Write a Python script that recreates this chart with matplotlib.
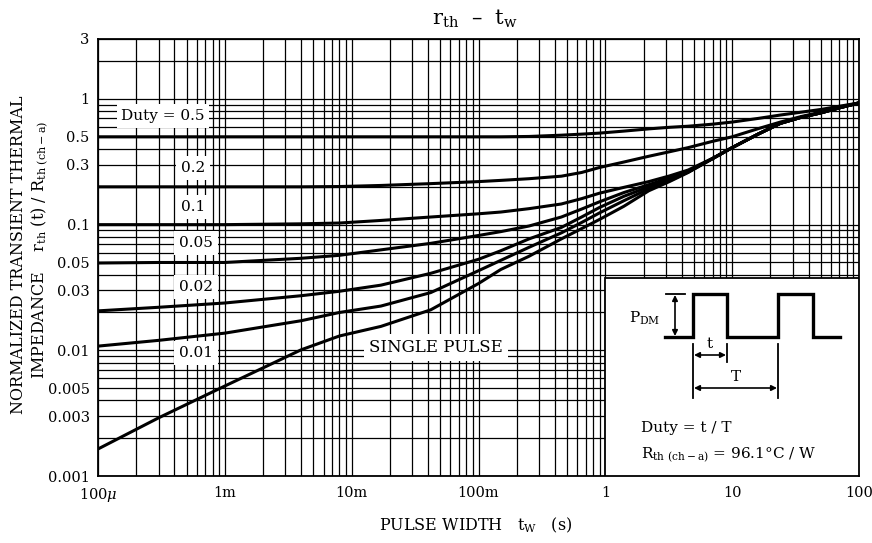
import numpy as np
import matplotlib
matplotlib.use("Agg")
import matplotlib.pyplot as plt
from matplotlib.patches import Rectangle
from matplotlib.ticker import LogLocator, NullFormatter

plt.rcParams["font.family"] = ["DejaVu Serif"]
plt.rcParams["mathtext.fontset"] = "dejavuserif"

# pulse width (s) and normalized r_th
t_w = [1e-4, 3e-4, 1e-3, 4e-3, 8e-3, 1.7e-2, 4.2e-2, 0.1, 0.15, 0.25, 0.45, 0.65, 0.9,
       1.4, 2.2, 3.2, 4.5, 7, 10, 16, 24, 35, 50, 70, 100]
duty_05 = [0.5, 0.5, 0.5, 0.5, 0.5, 0.5, 0.5, 0.5, 0.5, 0.503, 0.515, 0.525, 0.535,
           0.555, 0.578, 0.595, 0.607, 0.63, 0.655, 0.70, 0.745, 0.785, 0.825, 0.875, 0.93]
duty_02 = [0.2, 0.2, 0.2, 0.2, 0.201, 0.205, 0.212, 0.22, 0.225, 0.232, 0.243, 0.26, 0.285,
           0.315, 0.35, 0.38, 0.41, 0.46, 0.50, 0.58, 0.655, 0.725, 0.785, 0.855, 0.93]
duty_01 = [0.1, 0.1, 0.1, 0.1015, 0.103, 0.108, 0.115, 0.122, 0.126, 0.134, 0.146, 0.161, 0.178,
           0.198, 0.22, 0.244, 0.272, 0.337, 0.41, 0.525, 0.64, 0.715, 0.775, 0.85, 0.93]
duty_005 = [0.0495, 0.05, 0.05, 0.054, 0.057, 0.063, 0.071, 0.082, 0.088, 0.0975, 0.115, 0.133, 0.152,
            0.18, 0.208, 0.235, 0.266, 0.335, 0.41, 0.525, 0.64, 0.715, 0.775, 0.85, 0.93]
duty_002 = [0.0206, 0.022, 0.0238, 0.0272, 0.0295, 0.033, 0.041, 0.053, 0.062, 0.077, 0.095, 0.115, 0.137,
            0.168, 0.2, 0.228, 0.263, 0.335, 0.41, 0.525, 0.64, 0.715, 0.775, 0.85, 0.93]
duty_001 = [0.0108, 0.012, 0.0137, 0.0172, 0.020, 0.0225, 0.0288, 0.043, 0.052, 0.066, 0.086, 0.104, 0.124,
            0.155, 0.193, 0.224, 0.262, 0.335, 0.41, 0.525, 0.64, 0.715, 0.775, 0.85, 0.93]
single = [0.00164, 0.0029, 0.0052, 0.0101, 0.013, 0.0155, 0.021, 0.034, 0.044, 0.056, 0.077, 0.093, 0.11,
          0.14, 0.186, 0.22, 0.26, 0.335, 0.41, 0.525, 0.64, 0.715, 0.775, 0.85, 0.93]

curves = [duty_05, duty_02, duty_01, duty_005, duty_002, duty_001, single]

x_ticks = [1e-4, 1e-3, 1e-2, 1e-1, 1, 10, 100]
x_labels = ["100$\\mu$", "1m", "10m", "100m", "1", "10", "100"]
y_ticks = [0.001, 0.003, 0.005, 0.01, 0.03, 0.05, 0.1, 0.3, 0.5, 1, 3]
y_labels = ["0.001", "0.003", "0.005", "0.01", "0.03", "0.05", "0.1", "0.3", "0.5", "1", "3"]

W, H = 872, 543
fig = plt.figure(figsize=(W / 100, H / 100), dpi=100)
ax = fig.add_axes([98 / W, 1 - 476 / H, 761 / W, 437 / H])
ax.set_xscale("log")
ax.set_yscale("log")
ax.set_xlim(1e-4, 100)
ax.set_ylim(0.001, 3)

for y in curves:
    ax.plot(t_w, y, color="black", lw=2.2, solid_joinstyle="round", zorder=3)

ax.set_xticks(x_ticks)
ax.set_xticklabels(x_labels)
ax.set_yticks(y_ticks)
ax.set_yticklabels(y_labels)
ax.xaxis.set_minor_locator(LogLocator(base=10, subs=np.arange(2, 10), numticks=20))
ax.yaxis.set_minor_locator(LogLocator(base=10, subs=np.arange(2, 10), numticks=20))
ax.xaxis.set_minor_formatter(NullFormatter())
ax.yaxis.set_minor_formatter(NullFormatter())
ax.tick_params(which="both", length=0, labelsize=10.5)
ax.tick_params(axis="x", pad=7)
ax.tick_params(axis="y", pad=6)
ax.grid(which="both", color="black", lw=0.9)
ax.set_axisbelow(True)
for s in ax.spines.values():
    s.set_linewidth(1.3)


def ftext(px, py, s, **kw):
    # place text by pixel position measured from the top-left corner
    return fig.text(px / W, 1 - py / H, s, zorder=7, **kw)


# curve labels on white patches
box = dict(boxstyle="square,pad=0.3", fc="white", ec="none")
ftext(163, 116, "Duty = 0.5", ha="center", va="center", fontsize=11, bbox=box)
ftext(193, 168, "0.2", ha="center", va="center", fontsize=11, bbox=box)
ftext(193, 207, "0.1", ha="center", va="center", fontsize=11, bbox=box)
ftext(196, 243, "0.05", ha="center", va="center", fontsize=11, bbox=box)
ftext(196, 287, "0.02", ha="center", va="center", fontsize=11, bbox=box)
ftext(196, 353, "0.01", ha="center", va="center", fontsize=11, bbox=box)
ftext(436, 347, "SINGLE PULSE", ha="center", va="center", fontsize=12, bbox=box)


# inset box with pulse diagram
def P(px, py):
    return ((px - 98) / 761, (476 - py) / 437)


x0, y0 = P(605, 278)
ax.add_patch(Rectangle((x0, 0), 1 - x0, y0, transform=ax.transAxes,
                       fc="white", ec="black", lw=1.3, zorder=5))

wave_px = [665, 693, 693, 727, 727, 778, 778, 813, 813, 840]
wave_py = [337, 337, 294, 294, 337, 337, 294, 294, 337, 337]
pts = [P(a, b) for a, b in zip(wave_px, wave_py)]
ax.plot([p[0] for p in pts], [p[1] for p in pts], color="black", lw=2.4,
        transform=ax.transAxes, zorder=6, solid_joinstyle="miter")


def seg(p1, p2, lw=1.3):
    a, b = P(*p1), P(*p2)
    ax.plot([a[0], b[0]], [a[1], b[1]], color="black", lw=lw,
            transform=ax.transAxes, zorder=6)


def darrow(p1, p2):
    ax.annotate("", xy=P(*p1), xytext=P(*p2), xycoords="axes fraction",
                textcoords="axes fraction", zorder=6,
                arrowprops=dict(arrowstyle="<|-|>", color="black", lw=1.2,
                                mutation_scale=8, shrinkA=0, shrinkB=0))


seg((666, 294), (685, 294))
darrow((675, 295), (675, 336))
seg((693, 344), (693, 398))
seg((727, 344), (727, 362))
seg((778, 344), (778, 398))
darrow((694, 355), (726, 355))
darrow((694, 388), (777, 388))

ftext(645, 318, r"$\mathrm{P_{DM}}$", ha="center", va="center", fontsize=11)
ftext(710, 344, "t", ha="center", va="center", fontsize=11)
ftext(736, 377, "T", ha="center", va="center", fontsize=11)
ftext(641, 428, "Duty = t / T", ha="left", va="center", fontsize=11)
ftext(641, 455, r"$\mathrm{R_{th\ (ch-a)}}$ = 96.1°C / W", ha="left", va="center", fontsize=11)

# titles
ftext(475, 19, r"$\mathrm{r_{th}}$  –  $\mathrm{t_w}$", ha="center", va="center", fontsize=15)
ftext(476, 525, r"PULSE WIDTH   $\mathrm{t_W}$   (s)", ha="center", va="center", fontsize=11.5)
ftext(19, 255, "NORMALIZED TRANSIENT THERMAL", ha="center", va="center",
      rotation=90, fontsize=11.5)
ftext(40, 250, r"IMPEDANCE    $\mathrm{r_{th}}$ (t) / $\mathrm{R_{th\ (ch-a)}}$",
      ha="center", va="center", rotation=90, fontsize=11.5)

fig.savefig("out.png", dpi=100)
